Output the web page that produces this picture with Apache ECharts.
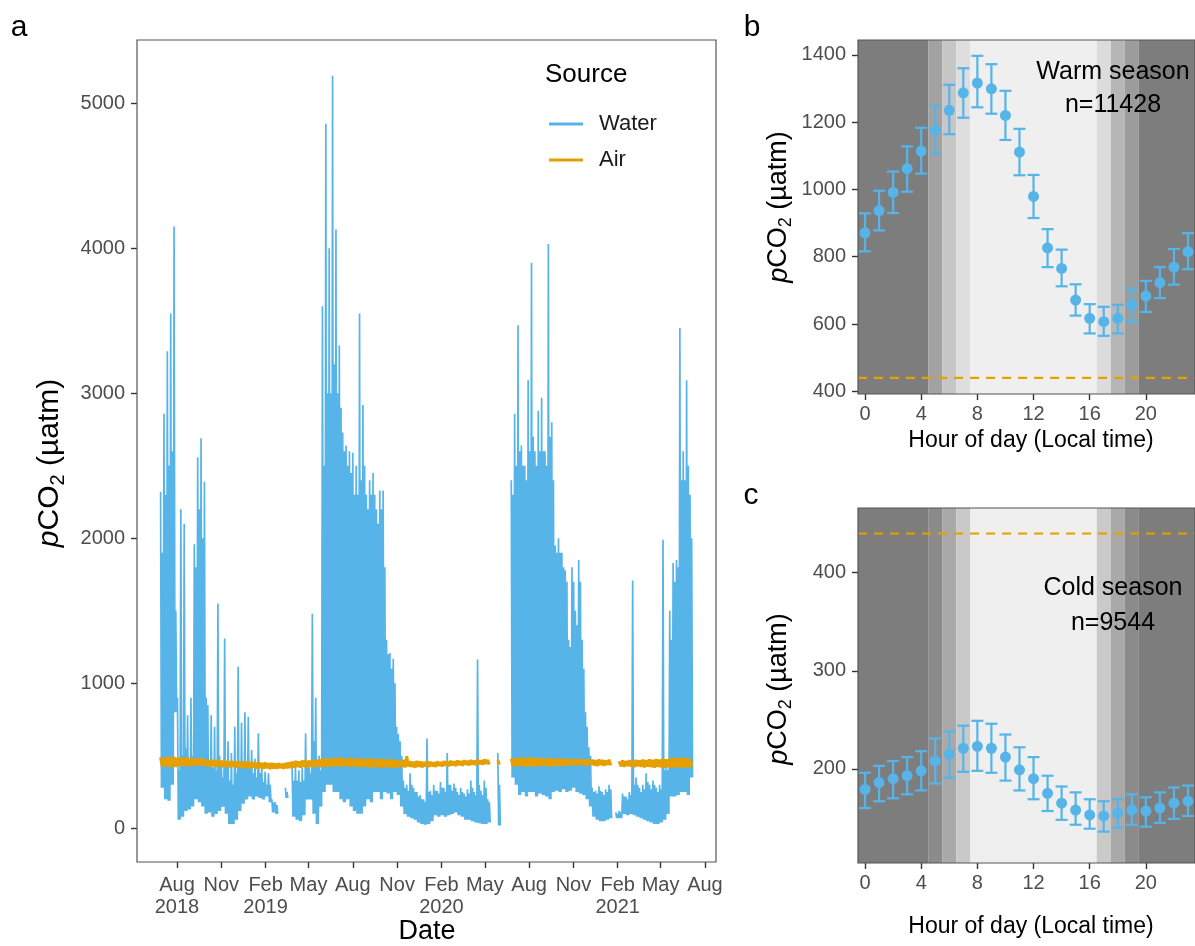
<!DOCTYPE html>
<html>
<head>
<meta charset="utf-8">
<script src="https://cdn.jsdelivr.net/npm/echarts@6/dist/echarts.min.js"></script>
<style>
html, body { margin: 0; padding: 0; background: #fff; }
#main { width: 1195px; height: 946px; }
</style>
</head>
<body>
<div id="main"></div>
<script>
// chart instance
var myChart = echarts.init(document.getElementById('main'));

// ---- panel a: weekly values of the logged series (read from the figure) ----
// high = tallest spike of the week, fill = top of the solid trace, low = bottom of the trace
var weekStart = '2018-06-28';
var waterHigh = [
  2320, 2860, 3290, 3550, 4150, 900, 2200, 2100, 780, 900,
  1960, 2560, 2690, 2390, 850, 780, 700, 1550, 470, 1310,
  600, 520, 700, 1115, 730, 800, 770, 540, 480, 655,
  420, 390, 380, 200, 180, null, null, 280, null, 420,
  430, 400, 420, 655, 470, 1480, 900, 500, 3600, 4860,
  4000, 5190, 4130, 3330, 2730, 2640, 2600, 2590, 2500, 3550,
  2920, 2300, 2400, 2450, 2200, 2330, 2330, 1300, 1210, 1170,
  700, 600, 330, 300, 380, 280, 250, 230, 200, 620,
  260, 300, 260, 320, 280, 520, 300, 310, 250, 280,
  240, 270, 330, 250, 1165, 260, 330, 200, null, null,
  520, null, null, null, 2400, 2860, 3470, 2640, 2500, 3090,
  3900, 2600, 2880, 2970, 2600, 4030, 2800, 1950, 2000, 1900,
  1780, 1300, 1800, 1500, 1850, 1300, 800, 560, 280, 260,
  290, 250, 270, 300, null, 110, 120, 240, 220, 250,
  1710, 350, 280, 300, 380, 300, 330, 280, 300, 1990,
  450, 1500, 1830, 1850, 3450, 2600, 3090, 2300
];
var waterFill = [
  1900, 2300, 2500, 2600, 1500, 400, 500, 550, 450, 500,
  1800, 2200, 2000, 900, 450, 420, 400, 500, 350, 450,
  330, 300, 380, 450, 420, 450, 420, 380, 350, 380,
  320, 300, 300, 180, 160, null, null, 250, null, 330,
  330, 320, 330, 420, 380, 600, 450, 400, 2500, 3000,
  3000, 3200, 3000, 2900, 2600, 2500, 2450, 2300, 2300, 2400,
  2500, 2200, 2300, 2300, 2100, 2200, 1800, 1200, 1100, 1000,
  650, 500, 280, 260, 300, 250, 220, 200, 180, 250,
  230, 260, 240, 280, 250, 300, 260, 280, 230, 250,
  220, 240, 280, 230, 300, 230, 280, 180, null, null,
  300, null, null, null, 2300, 2500, 2600, 2500, 2400, 2600,
  2700, 2500, 2600, 2600, 2500, 2700, 2400, 1900, 1900, 1800,
  1700, 1250, 1700, 1400, 1700, 1100, 700, 500, 250, 240,
  260, 230, 250, 270, null, 100, 110, 220, 200, 230,
  300, 300, 250, 270, 320, 270, 300, 250, 270, 400,
  400, 1300, 1700, 1800, 2400, 2400, 2500, 2000
];
var waterLow = [
  280, 200, 190, 300, 800, 60, 80, 120, 130, 150,
  200, 180, 150, 100, 110, 80, 100, 120, 150, 100,
  30, 30, 60, 120, 170, 200, 220, 200, 220, 210,
  200, 220, 180, 110, 100, null, null, 210, null, 80,
  60, 50, 90, 200, 200, 100, 30, 150, 250, 300,
  300, 250, 250, 200, 180, 200, 150, 120, 100, 100,
  150, 200, 180, 250, 250, 200, 250, 240, 200, 250,
  230, 150, 100, 80, 70, 60, 40, 30, 25, 30,
  50, 90, 80, 90, 80, 90, 100, 110, 90, 80,
  60, 60, 50, 40, 35, 30, 30, 40, null, null,
  20, null, null, null, 350, 300, 230, 250, 220, 250,
  250, 220, 240, 230, 220, 200, 250, 260, 250, 270,
  250, 260, 280, 250, 240, 230, 200, 150, 80, 60,
  50, 50, 60, 70, null, 70, 70, 100, 90, 100,
  90, 80, 70, 60, 50, 40, 30, 30, 40, 60,
  100, 220, 220, 230, 250, 250, 230, 350
];
var airHigh = [
  490, 485, 495, 488, 492, 486, 490, 484, 488, 482, 486, 480, 484,
  476, 470, 474, 468, 472, 466, 470, 462, 466, 460, 464, 458, 462,
  456, 460, 454, 458, 452, 455, 450, 452, 448, 450, 446, 452, 455,
  460, 465, 462, 468, 470, 466, 472, 470, 476, 480, 484, 480, 486,
  482, 488, 484, 480, 486, 482, 478, 484, 480, 476, 482, 478, 474,
  480, 476, 472, 478, 474, 470, 466, 472, 498, 464, 460, 466, 462,
  458, 464, 460, 456, 462, 458, 464, 460, 466, 462, 468, 464, 470,
  466, 472, 468, 474, 470, 476, 472, null, null, 470, null, null, null,
  480, 486, 482, 488, 484, 490, 486, 482, 488, 484, 480, 486, 482,
  478, 484, 480, 476, 482, 478, 474, 480, 476, 472, 478, 474, 470,
  476, 472, 468, 474, null, null, 462, 468, 464, 470, 466, 472, 468,
  474, 470, 476, 472, 478, 474, 480, 476, 482, 486, 482, 488, 484,
  486, 482
];
var airLow = [
  425, 430, 420, 428, 424, 430, 426, 432, 428, 434, 430, 436, 432,
  430, 426, 430, 424, 428, 422, 426, 420, 424, 418, 422, 416, 420,
  414, 418, 412, 416, 410, 414, 408, 412, 410, 414, 410, 414, 416,
  418, 422, 418, 424, 420, 426, 422, 426, 422, 428, 424, 430, 426,
  430, 426, 432, 428, 424, 430, 426, 422, 428, 424, 420, 426, 422,
  418, 424, 420, 416, 422, 418, 424, 420, 426, 422, 418, 424, 420,
  426, 422, 428, 424, 430, 426, 432, 428, 434, 430, 436, 432, 438,
  434, 440, 436, 442, 438, 444, 440, null, null, 440, null, null, null,
  430, 426, 432, 428, 424, 430, 426, 432, 428, 434, 430, 426, 432,
  428, 434, 430, 436, 432, 438, 434, 440, 436, 432, 438, 434, 430,
  436, 432, 438, 434, null, null, 428, 424, 430, 426, 422, 428, 424,
  420, 426, 422, 418, 424, 420, 416, 422, 418, 424, 420, 416, 422,
  418, 424
];
var tickDates = ['2018-08-01', '2018-11-01', '2019-02-01', '2019-05-01', '2019-08-01', '2019-11-01',
  '2020-02-01', '2020-05-01', '2020-08-01', '2020-11-01', '2021-02-01', '2021-05-01', '2021-08-01'];
var tickLabels = ['Aug\n2018', 'Nov', 'Feb\n2019', 'May', 'Aug', 'Nov', 'Feb\n2020', 'May',
  'Aug', 'Nov', 'Feb\n2021', 'May', 'Aug'];
var yTicksA = [0, 1000, 2000, 3000, 4000, 5000];

// ---- panels b, c: hourly means with error bars ----
var hours = [0, 1, 2, 3, 4, 5, 6, 7, 8, 9, 10, 11, 12, 13, 14, 15, 16, 17, 18, 19, 20, 21, 22, 23];
var warmMean = [871, 937, 991, 1062, 1114, 1176, 1235, 1287, 1316, 1299, 1220, 1111, 979, 826, 765, 671, 617, 607, 617, 656, 683, 723, 769, 815];
var warmLow = [816, 878, 930, 993, 1047, 1106, 1164, 1213, 1244, 1225, 1147, 1042, 915, 769, 712, 625, 572, 565, 572, 607, 636, 677, 717, 763];
var warmHigh = [929, 996, 1053, 1128, 1183, 1248, 1311, 1360, 1397, 1372, 1293, 1180, 1043, 882, 821, 718, 659, 651, 657, 705, 728, 769, 823, 870];
var coldMean = [179, 186, 190, 193, 198, 208, 215, 221, 223, 221, 212, 199, 190, 175, 165, 158, 153, 152, 155, 158, 157, 160, 165, 167];
var coldLow = [160, 167, 170, 174, 178, 185, 191, 197, 198, 196, 188, 178, 169, 157, 148, 143, 139, 136, 140, 143, 141, 145, 149, 152];
var coldHigh = [196, 203, 208, 212, 218, 231, 238, 244, 249, 246, 235, 222, 212, 193, 182, 176, 169, 167, 169, 174, 171, 176, 181, 183];
var airMean = 440;
var hourTicks = [0, 4, 8, 12, 16, 20];
var yTicksB = [400, 600, 800, 1000, 1200, 1400];
var yTicksC = [200, 300, 400];

// light / twilight shading, edges in hours
var bandEdges = [-0.5, 4.5, 5.5, 6.5, 7.5, 16.5, 17.5, 18.5, 19.5, 23.5];
var warmBandColors = ['#7d7d7d', '#a2a2a2', '#c6c6c6', '#dedede', '#efefef', '#dcdcdc', '#b6b6b6', '#9c9c9c', '#7d7d7d'];
var coldBandColors = ['#7d7d7d', '#8b8b8b', '#a9a9a9', '#c9c9c9', '#efefef', '#c9c9c9', '#a9a9a9', '#8b8b8b', '#7d7d7d'];

var BLUE = '#56B4E9';
var ORANGE = '#E69F00';
var FONT = 'Liberation Sans, Arial, Helvetica, sans-serif';
var DAY = 86400000;
var t0 = Date.parse(weekStart);

// four samples a week: spike, low, top of the solid trace, low
function waterTrace() {
  var out = [];
  for (var k = 0; k < waterHigh.length; k++) {
    var t = t0 + k * 7 * DAY;
    if (waterHigh[k] == null) { out.push([t, null]); continue; }
    out.push([t, waterHigh[k]]);
    out.push([t + 1.75 * DAY, waterLow[k]]);
    out.push([t + 3.5 * DAY, waterFill[k]]);
    out.push([t + 5.25 * DAY, waterLow[k]]);
  }
  return out;
}
// two samples a week for air: weekly high then low
function airTrace() {
  var out = [];
  for (var k = 0; k < airHigh.length; k++) {
    var t = t0 + k * 7 * DAY;
    if (airHigh[k] == null) { out.push([t, null]); continue; }
    out.push([t, airHigh[k]]);
    out.push([t + 3.5 * DAY, airLow[k]]);
  }
  return out;
}

var tickTimes = tickDates.map(function (d) { return Date.parse(d); });
var labelByTime = {};
tickTimes.forEach(function (t, i) { labelByTime[t] = tickLabels[i]; });

function bandData() {
  var out = [];
  for (var i = 0; i < bandEdges.length - 1; i++) out.push([bandEdges[i], bandEdges[i + 1]]);
  return out;
}
function bandSeries(idx, colors) {
  return {
    type: 'custom', xAxisIndex: idx, yAxisIndex: idx, z: 1, silent: true,
    data: bandData(),
    encode: { x: [0, 1] },
    renderItem: function (params, api) {
      var a = api.coord([api.value(0), airMean]);
      var b = api.coord([api.value(1), airMean]);
      var cs = params.coordSys;
      return {
        type: 'rect',
        shape: { x: a[0], y: cs.y, width: b[0] - a[0], height: cs.height },
        style: { fill: colors[params.dataIndex] }
      };
    }
  };
}
function errorSeries(idx, lo, hi) {
  return {
    type: 'custom', xAxisIndex: idx, yAxisIndex: idx, z: 3, silent: true,
    data: hours.map(function (h, i) { return [h, lo[i], hi[i]]; }),
    encode: { x: 0, y: [1, 2] },
    renderItem: function (params, api) {
      var x = api.value(0);
      var p1 = api.coord([x, api.value(2)]);
      var p2 = api.coord([x, api.value(1)]);
      var w = 6;
      var st = { stroke: BLUE, lineWidth: 2.2 };
      return {
        type: 'group', children: [
          { type: 'line', shape: { x1: p1[0], y1: p1[1], x2: p2[0], y2: p2[1] }, style: st },
          { type: 'line', shape: { x1: p1[0] - w, y1: p1[1], x2: p1[0] + w, y2: p1[1] }, style: st },
          { type: 'line', shape: { x1: p2[0] - w, y1: p2[1], x2: p2[0] + w, y2: p2[1] }, style: st }
        ]
      };
    }
  };
}
function meanSeries(idx, mean) {
  return {
    type: 'scatter', xAxisIndex: idx, yAxisIndex: idx, z: 4, silent: true,
    symbolSize: 11, itemStyle: { color: BLUE, opacity: 1 },
    data: hours.map(function (h, i) { return [h, mean[i]]; })
  };
}
function airLineSeries(idx) {
  return {
    type: 'line', xAxisIndex: idx, yAxisIndex: idx, z: 2, silent: true,
    showSymbol: false,
    lineStyle: { color: ORANGE, width: 2.2, type: [9, 7] },
    data: [[bandEdges[0], airMean], [bandEdges[bandEdges.length - 1], airMean]]
  };
}

var tickStyle = { show: true, length: 6, lineStyle: { color: '#333', width: 1.4 } };
var labelStyle = { color: '#4d4d4d', fontSize: 20, fontFamily: FONT };
function plain(v) { return String(v); }

function hourAxis(idx) {
  return {
    type: 'value', gridIndex: idx, min: -0.5, max: 23.5,
    axisLine: { show: false, onZero: false }, splitLine: { show: false },
    axisTick: Object.assign({ customValues: hourTicks }, tickStyle),
    axisLabel: Object.assign({ customValues: hourTicks, margin: 10, formatter: plain }, labelStyle)
  };
}
function valueAxis(idx, min, max, ticks) {
  return {
    type: 'value', gridIndex: idx, min: min, max: max,
    axisLine: { show: false, onZero: false }, splitLine: { show: false },
    axisTick: Object.assign({ customValues: ticks }, tickStyle),
    axisLabel: Object.assign({ customValues: ticks, margin: 12, formatter: plain }, labelStyle)
  };
}

function pco2Rich(size) {
  return {
    i: { fontStyle: 'italic', fontSize: size, fontFamily: FONT, lineHeight: size + 6 },
    s: { fontSize: Math.round(size * 0.66), fontFamily: FONT, verticalAlign: 'bottom', lineHeight: size + 6 },
    n: { fontSize: size, fontFamily: FONT, lineHeight: size + 6 }
  };
}
function yTitle(x, y, size) {
  return {
    type: 'text', x: x, y: y, z: 100, rotation: Math.PI / 2,
    style: {
      text: '{i|p}{n|CO}{s|2}{n| (µatm)}', rich: pco2Rich(size),
      align: 'center', verticalAlign: 'middle', fill: '#000'
    }
  };
}
function label(text, x, y, size, align) {
  return {
    type: 'text', x: x, y: y, z: 100,
    style: { text: text, fontSize: size, fontFamily: FONT, fill: '#000',
      align: align || 'center', verticalAlign: 'middle' }
  };
}

var option = {
  animation: false,
  backgroundColor: '#fff',
  grid: [
    { left: 137, top: 40, width: 579, height: 822, show: true, borderColor: '#555', borderWidth: 1.2, z: 10 },
    { left: 858, top: 40, width: 347, height: 354, show: true, borderColor: '#555', borderWidth: 1.2, z: 10 },
    { left: 858, top: 508, width: 347, height: 355, show: true, borderColor: '#555', borderWidth: 1.2, z: 10 }
  ],
  xAxis: [
    {
      // dates as ms on a plain value axis so the month ticks can be placed exactly
      type: 'value', gridIndex: 0, min: Date.parse('2018-05-10'), max: Date.parse('2021-08-24'),
      axisLine: { show: false, onZero: false }, splitLine: { show: false },
      axisTick: Object.assign({ customValues: tickTimes }, tickStyle),
      axisLabel: Object.assign({
        customValues: tickTimes, margin: 12, lineHeight: 22, hideOverlap: false,
        formatter: function (v) { return labelByTime[v] || ''; }
      }, labelStyle)
    },
    hourAxis(1),
    hourAxis(2)
  ],
  yAxis: [
    valueAxis(0, -232, 5437, yTicksA),
    valueAxis(1, 392, 1444, yTicksB),
    valueAxis(2, 104, 466, yTicksC)
  ],
  legend: {
    data: ['Water', 'Air'], orient: 'vertical', left: 544, top: 108,
    icon: 'rect', itemWidth: 34, itemHeight: 3, itemGap: 14,
    textStyle: { fontSize: 22, fontFamily: FONT, color: '#1a1a1a', lineHeight: 22, padding: [0, 0, 0, 11] }
  },
  series: [
    {
      name: 'Water', type: 'line', xAxisIndex: 0, yAxisIndex: 0, z: 2,
      showSymbol: false, connectNulls: false, silent: true,
      itemStyle: { color: BLUE },
      lineStyle: { color: BLUE, width: 1.7 },
      data: waterTrace()
    },
    {
      name: 'Air', type: 'line', xAxisIndex: 0, yAxisIndex: 0, z: 3,
      showSymbol: false, connectNulls: false, silent: true,
      itemStyle: { color: ORANGE },
      lineStyle: { color: ORANGE, width: 3 },
      data: airTrace()
    },
    bandSeries(1, warmBandColors),
    airLineSeries(1),
    errorSeries(1, warmLow, warmHigh),
    meanSeries(1, warmMean),
    bandSeries(2, coldBandColors),
    airLineSeries(2),
    errorSeries(2, coldLow, coldHigh),
    meanSeries(2, coldMean)
  ],
  graphic: [
    label('a', 19, 28, 30),
    label('b', 752, 28, 30),
    label('c', 751, 496, 30),
    label('Source', 545, 75, 26, 'left'),
    label('Warm season', 1113, 72, 25),
    label('n=11428', 1113, 105, 25),
    label('Cold season', 1113, 588, 25),
    label('n=9544', 1113, 623, 25),
    label('Date', 427, 932, 27),
    label('Hour of day (Local time)', 1031, 441, 23),
    label('Hour of day (Local time)', 1031, 927, 23),
    yTitle(50, 463, 30),
    yTitle(779, 207, 27),
    yTitle(779, 689, 27)
  ]
};

myChart.setOption(option);
</script>
</body>
</html>
